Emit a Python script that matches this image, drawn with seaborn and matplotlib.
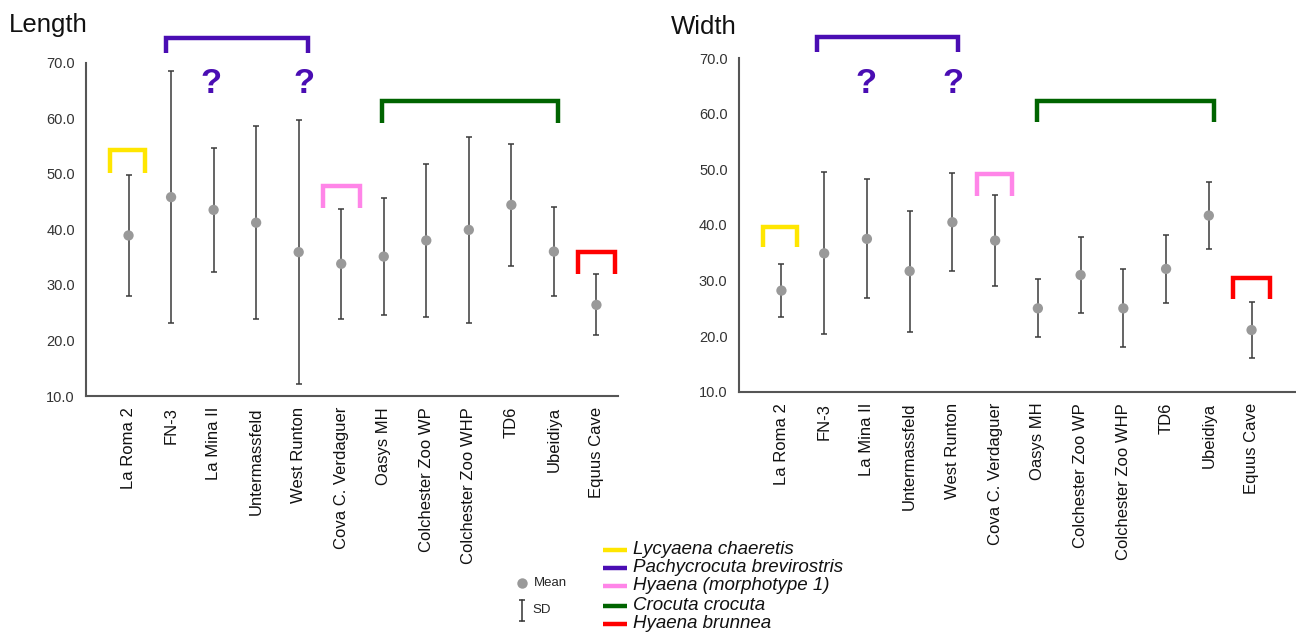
import numpy as np
import pandas as pd
import matplotlib
matplotlib.use("Agg")
import matplotlib.pyplot as plt
import seaborn as sns
from matplotlib.lines import Line2D

# ---------------- data ----------------
sites = ["La Roma 2", "FN-3", "La Mina II", "Untermassfeld", "West Runton",
         "Cova C. Verdaguer", "Oasys MH", "Colchester Zoo WP", "Colchester Zoo WHP",
         "TD6", "Ubeidiya", "Equus Cave"]
length_mean = [38.9, 45.8, 43.5, 41.2, 35.9, 33.8, 35.1, 38.0, 39.9, 44.4, 36.0, 26.4]
length_sd = [10.9, 22.7, 11.1, 17.4, 23.8, 9.9, 10.6, 13.8, 16.8, 11.0, 8.0, 5.5]
width_mean = [28.2, 34.9, 37.5, 31.7, 40.5, 37.2, 25.0, 31.0, 25.0, 32.1, 41.7, 21.1]
width_sd = [4.8, 14.6, 10.7, 10.9, 8.8, 8.2, 5.2, 6.8, 7.0, 6.1, 6.0, 5.1]
y_ticks = [10.0, 20.0, 30.0, 40.0, 50.0, 60.0, 70.0]

species = ["Lycyaena chaeretis", "Pachycrocuta brevirostris", "Hyaena (morphotype 1)",
           "Crocuta crocuta", "Hyaena brunnea"]
species_colors = ["#FFE600", "#4A0DB3", "#FF85E8", "#006400", "#FF0000"]
# bracket extents per species: (first site pos, last site pos, top value, foot value)
length_brackets = [(-0.43, 0.39, 54.2, 50.2), (0.87, 4.21, 74.5, 71.7),
                   (4.57, 5.43, 47.8, 43.8), (5.96, 10.10, 63.1, 59.2),
                   (10.57, 11.44, 35.9, 32.0)]
width_brackets = [(-0.44, 0.37, 39.7, 36.0), (0.83, 4.13, 73.9, 71.2),
                  (4.57, 5.40, 49.1, 45.2), (5.97, 10.12, 62.4, 58.6),
                  (10.57, 11.43, 30.5, 26.7)]
length_query = [(1.94, 66.3), (4.12, 66.3)]
width_query = [(1.98, 65.5), (4.01, 65.5)]

# ---------------- style ----------------
sns.set_style("white")
plt.rcParams["font.family"] = ["Liberation Sans", "DejaVu Sans"]

W, H = 1296, 632
fig = plt.figure(figsize=(W / 100, H / 100), dpi=100)

def fx(px):
    return px / W

def fy(py):
    return 1 - py / H

ax_l = fig.add_axes([fx(86), fy(396), fx(617.7) - fx(86), fy(62.7) - fy(396)])
ax_r = fig.add_axes([fx(738.7), fy(391.7), 1 - fx(738.7), fy(58.3) - fy(391.7)])

pos = np.arange(len(sites))


def draw_panel(ax, mean, sd, brackets, queries, xmax):
    df = pd.DataFrame({"pos": pos, "mean": mean, "sd": sd})
    ax.errorbar(df["pos"], df["mean"], yerr=df["sd"], fmt="none",
                ecolor="#3a3a3a", elinewidth=1.1, capsize=2.2, capthick=1.1, zorder=2)
    sns.scatterplot(data=df, x="pos", y="mean", ax=ax, s=55, color="#999999",
                    edgecolor="none", zorder=3, legend=False)
    for (x0, x1, ytop, ybot), col in zip(brackets, species_colors):
        ax.plot([x0, x0, x1, x1], [ybot, ytop, ytop, ybot], color=col, lw=3.2,
                solid_joinstyle="miter", solid_capstyle="butt", clip_on=False, zorder=4)
    for qx, qy in queries:
        ax.text(qx, qy, "?", color=species_colors[1], fontsize=25, fontweight="bold",
                ha="center", va="center", clip_on=False)
    ax.set_xlim(-1, xmax)
    ax.set_ylim(10, 70)
    ax.set_yticks(y_ticks)
    ax.set_yticklabels([f"{v:.1f}" for v in y_ticks], fontsize=10.5, color="#333333")
    ax.set_xticks(pos)
    ax.set_xticklabels(sites, rotation=90, fontsize=12, color="#111111")
    ax.tick_params(axis="both", length=0)
    ax.tick_params(axis="y", pad=8)
    ax.tick_params(axis="x", pad=8)
    ax.set_xlabel("")
    ax.set_ylabel("")
    for s in ["top", "right"]:
        ax.spines[s].set_visible(False)
    for s in ["left", "bottom"]:
        ax.spines[s].set_color("#555555")
        ax.spines[s].set_linewidth(1.5)
    ax.patch.set_alpha(0)


draw_panel(ax_l, length_mean, length_sd, length_brackets, length_query, 11.5)
draw_panel(ax_r, width_mean, width_sd, width_brackets, width_query, 12.04)

fig.text(fx(9), fy(25), "Length", fontsize=18.5, ha="left", va="center", color="#111111")
fig.text(fx(671), fy(27), "Width", fontsize=18.5, ha="left", va="center", color="#111111")

# ---------------- legend ----------------
fig.add_artist(Line2D([fx(522)], [fy(583)], marker="o", markersize=7.5, color="#999999",
                      markeredgewidth=0, linestyle="none"))
fig.text(fx(534), fy(583), "Mean", fontsize=9.5, ha="left", va="center")
fig.add_artist(Line2D([fx(522), fx(522)], [fy(600), fy(621)], color="#333333", lw=1.1,
                      marker="_", markersize=5, markeredgewidth=1.1))
fig.text(fx(532), fy(610), "SD", fontsize=9.5, ha="left", va="center")

legend_rows = [550, 567.5, 585.5, 606, 624]
for name, col, ry in zip(species, species_colors, legend_rows):
    fig.add_artist(Line2D([fx(602.7), fx(627)], [fy(ry), fy(ry)], color=col, lw=3.2,
                          solid_capstyle="butt"))
    fig.text(fx(633), fy(ry), name, fontsize=13.5, style="italic", ha="left",
             va="center", color="#111111")

fig.savefig("out.png", dpi=100)
